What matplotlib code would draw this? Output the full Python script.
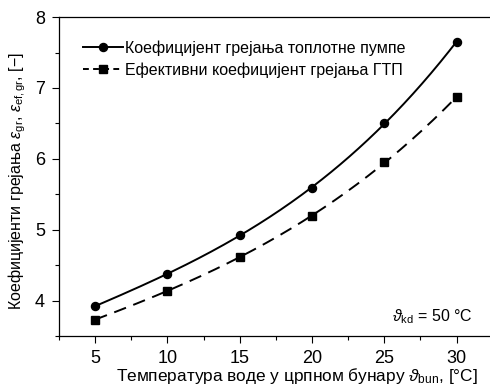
import numpy as np
import matplotlib
matplotlib.use("Agg")
import matplotlib.pyplot as plt
from matplotlib.ticker import MultipleLocator

plt.rcParams['font.family'] = ['Liberation Sans', 'DejaVu Sans']
plt.rcParams['mathtext.fontset'] = 'custom'
plt.rcParams['mathtext.rm'] = 'Liberation Sans'
plt.rcParams['mathtext.it'] = 'Liberation Sans:italic'

temps = [5, 10, 15, 20, 25, 30]
cop_hp = [3.92, 4.38, 4.92, 5.59, 6.50, 7.65]
cop_eff = [3.73, 4.14, 4.615, 5.19, 5.95, 6.87]
label_hp = "Коефицијент грејања топлотне пумпе"
label_eff = "Ефективни коефицијент грејања ГТП"

fig = plt.figure(figsize=(4.9, 3.88), dpi=100)
ax = fig.add_axes([0.1204, 0.134, 0.885, 0.822])

xs = np.linspace(min(temps), max(temps), 200)
p1 = np.polyfit(temps, cop_hp, 3)
p2 = np.polyfit(temps, cop_eff, 3)
ax.plot(xs, np.polyval(p1, xs), color='black', lw=1.4)
ax.plot(xs, np.polyval(p2, xs), color='black', lw=1.4, dashes=(6.5, 4))
ax.plot(temps, cop_hp, 'o', color='black', ms=5.8)
ax.plot(temps, cop_eff, 's', color='black', ms=5.2)

h1, = ax.plot([], [], '-o', color='black', lw=1.4, ms=5.8)
h2, = ax.plot([], [], '--s', color='black', lw=1.4, ms=5.2, dashes=(3, 2.2))
ax.legend([h1, h2], [label_hp, label_eff], loc='upper left',
          bbox_to_anchor=(0.055, 0.927), frameon=False, fontsize=11.5,
          handlelength=2.5, handletextpad=0.15, labelspacing=0.4,
          borderaxespad=0, borderpad=0)

ax.set_xlim(2.5, 32.5)
ax.set_ylim(3.5, 8)
ax.xaxis.set_major_locator(MultipleLocator(5))
ax.xaxis.set_minor_locator(MultipleLocator(2.5))
ax.yaxis.set_major_locator(MultipleLocator(1))
ax.yaxis.set_minor_locator(MultipleLocator(0.5))
ax.tick_params(which='major', direction='out', length=5, width=0.8, labelsize=13, pad=5)
ax.tick_params(which='minor', direction='out', length=3, width=0.8)
ax.spines['right'].set_visible(False)
for s in ['left', 'bottom', 'top']:
    ax.spines[s].set_linewidth(0.9)

ax.set_xlabel(r"Температура воде у црпном бунару $\vartheta_{\rm bun}$, [°C]", fontsize=12.4, labelpad=-1)
ax.xaxis.label.set_x(0.549)
ax.set_ylabel(r"Коефицијенти грејања $\varepsilon_{\rm gr}$, $\varepsilon_{\rm ef,gr}$, [−]", fontsize=11.5)
ax.yaxis.set_label_coords(-0.072, 0.487)
ax.text(0.955, 0.06, r"$\vartheta_{\rm kd}$ = 50 °C", transform=ax.transAxes,
        ha='right', va='center', fontsize=11.5)

fig.savefig("out.png", dpi=100)
